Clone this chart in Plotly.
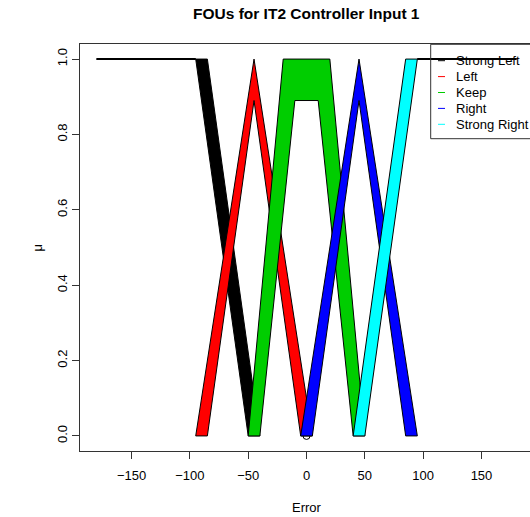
import plotly.graph_objects as go

# Interval type-2 fuzzy sets for controller input 1 (error)
# each set: upper membership function (UMF) and lower membership function (LMF)
set_names = ["Strong Left", "Left", "Keep", "Right", "Strong Right"]
set_colors = ["#000000", "#FF0000", "#00CD00", "#0000FF", "#00FFFF"]

strong_left_umf_x = [-180, -85, -40]
strong_left_umf_mu = [1.0, 1.0, 0.0]
strong_left_lmf_x = [-180, -95, -50]
strong_left_lmf_mu = [1.0, 1.0, 0.0]

left_umf_x = [-95, -45, 5]
left_umf_mu = [0.0, 1.0, 0.0]
left_lmf_x = [-85, -45, -5]
left_lmf_mu = [0.0, 0.89, 0.0]

keep_umf_x = [-50, -20, 20, 50]
keep_umf_mu = [0.0, 1.0, 1.0, 0.0]
keep_lmf_x = [-40, -10, 10, 40]
keep_lmf_mu = [0.0, 0.89, 0.89, 0.0]

right_umf_x = [-5, 45, 95]
right_umf_mu = [0.0, 1.0, 0.0]
right_lmf_x = [5, 45, 85]
right_lmf_mu = [0.0, 0.89, 0.0]

strong_right_umf_x = [40, 85, 180]
strong_right_umf_mu = [0.0, 1.0, 1.0]
strong_right_lmf_x = [50, 95, 180]
strong_right_lmf_mu = [0.0, 1.0, 1.0]

x_ticks = [-150, -100, -50, 0, 50, 100, 150]
y_ticks = [0.0, 0.2, 0.4, 0.6, 0.8, 1.0]

fous = [
    (strong_left_umf_x, strong_left_umf_mu, strong_left_lmf_x, strong_left_lmf_mu),
    (left_umf_x, left_umf_mu, left_lmf_x, left_lmf_mu),
    (keep_umf_x, keep_umf_mu, keep_lmf_x, keep_lmf_mu),
    (right_umf_x, right_umf_mu, right_lmf_x, right_lmf_mu),
    (strong_right_umf_x, strong_right_umf_mu, strong_right_lmf_x, strong_right_lmf_mu),
]

FONT = "Liberation Sans, Arial, Helvetica, sans-serif"
W, H = 530, 517
ML, MR, MT, MB = 80, 0, 44, 66

fig = go.Figure()

# origin point of the empty plot
fig.add_trace(go.Scatter(
    x=[0], y=[0], mode="markers",
    marker=dict(symbol="circle-open", size=7, color="black", line=dict(width=1)),
    hoverinfo="skip", showlegend=False,
))

# footprints of uncertainty: region between UMF and LMF
for (ux, uy, lx, ly), name, col in zip(fous, set_names, set_colors):
    px = list(ux) + list(reversed(lx)) + [ux[0]]
    py = list(uy) + list(reversed(ly)) + [uy[0]]
    fig.add_trace(go.Scatter(
        x=px, y=py, mode="lines", fill="toself", fillcolor=col,
        line=dict(color="black", width=1), name=name, showlegend=False,
    ))

# shoulders at full membership
for ux, uy, lx, ly in (fous[0], fous[-1]):
    flat = [i for i in range(len(lx)) if ly[i] == 1.0]
    fig.add_trace(go.Scatter(
        x=[lx[i] for i in flat], y=[ly[i] for i in flat], mode="lines",
        line=dict(color="black", width=2), hoverinfo="skip", showlegend=False,
    ))

pw = W - ML - MR
ph = H - MT - MB


def paper_x(px):
    return (px - ML) / pw


def paper_y(py):
    return (H - MB - py) / ph


shapes = []
annotations = []

# legend box, symbols and labels
shapes.append(dict(
    type="rect", xref="paper", yref="paper",
    x0=paper_x(430.7), x1=paper_x(545), y0=paper_y(138.7), y1=paper_y(44.3),
    line=dict(color="#333333", width=1), fillcolor="rgba(0,0,0,0)", layer="above",
))
for i, (name, col) in enumerate(zip(set_names, set_colors)):
    ry = 60.7 + i * 15.9
    shapes.append(dict(
        type="line", xref="paper", yref="paper",
        x0=paper_x(438), x1=paper_x(445), y0=paper_y(ry), y1=paper_y(ry),
        line=dict(color=col, width=1), layer="above",
    ))
    annotations.append(dict(
        text=name, xref="paper", yref="paper", x=paper_x(454), y=paper_y(ry),
        xanchor="left", yanchor="middle", showarrow=False,
        font=dict(family=FONT, size=13, color="black"),
    ))

# title and axis titles
annotations.append(dict(
    text="<b>FOUs for IT2 Controller Input 1</b>", xref="x", yref="paper",
    x=0, y=paper_y(14), xanchor="center", yanchor="middle", showarrow=False,
    font=dict(family=FONT, size=15.5, color="black"),
))
annotations.append(dict(
    text="Error", xref="x", yref="paper", x=0, y=paper_y(507),
    xanchor="center", yanchor="middle", showarrow=False,
    font=dict(family=FONT, size=13, color="black"),
))
annotations.append(dict(
    text="μ", xref="paper", yref="y", x=paper_x(37), y=0.5,
    xanchor="center", yanchor="middle", showarrow=False, textangle=-90,
    font=dict(family=FONT, size=13, color="black"),
))

fig.update_layout(
    width=W, height=H,
    margin=dict(l=ML, r=MR, t=MT, b=MB, pad=0),
    paper_bgcolor="white", plot_bgcolor="white",
    showlegend=False,
    shapes=shapes, annotations=annotations,
    font=dict(family=FONT, size=13, color="black"),
    xaxis=dict(
        range=[-194.2, 191.6], tickvals=x_ticks,
        ticktext=[str(v).replace("-", "\u2212") for v in x_ticks],
        showgrid=False, zeroline=False,
        showline=True, mirror=True, linecolor="#333333", linewidth=1,
        ticks="outside", ticklen=7, tickcolor="#333333", tickwidth=1,
        ticklabelstandoff=5,
        tickfont=dict(family=FONT, size=13, color="black"),
    ),
    yaxis=dict(
        range=[-0.04, 1.04], tickvals=y_ticks,
        ticktext=[f"{v:.1f}" for v in y_ticks],
        showgrid=False, zeroline=False,
        showline=True, mirror=False, linecolor="#333333", linewidth=1,
        ticks="outside", ticklen=7, tickcolor="#333333", tickwidth=1,
        tickangle=-90, ticklabelstandoff=0,
        tickfont=dict(family=FONT, size=13, color="black"),
    ),
)

fig.write_html("out.html")
